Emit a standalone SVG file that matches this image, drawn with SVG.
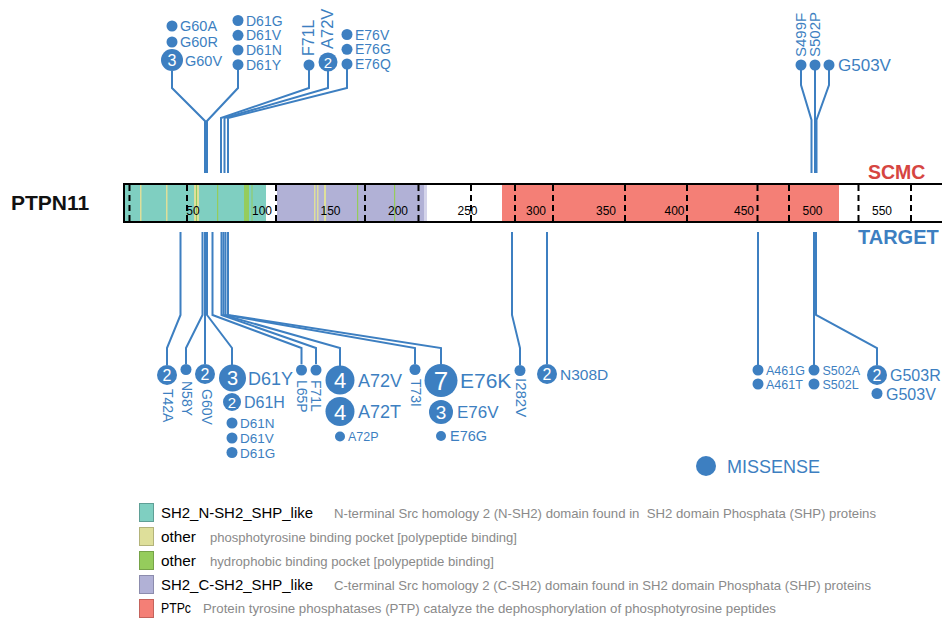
<svg xmlns="http://www.w3.org/2000/svg" width="942" height="619" viewBox="0 0 942 619">
  <style>
    text { font-family: "Liberation Sans", Arial, sans-serif; }
    .lbl { fill: #3d7fc1; }
    .num { fill: #ffffff; text-anchor: middle; }
    .dot { fill: #3d7fc1; }
    .conn { fill: none; stroke: #3d7fc1; stroke-width: 2; stroke-linejoin: miter; }
    .tick { stroke: #000; stroke-width: 2; stroke-dasharray: 6 4; }
    .axis { font-size: 12px; fill: #000; text-anchor: middle; }
    .lgname { font-size: 15px; fill: #000; }
    .lgdesc { font-size: 13px; fill: #8a8a8a; white-space: pre; }
  </style>

  <!-- protein name and track titles -->
  <text x="11" y="210" font-size="21" font-weight="bold" fill="#111">PTPN11</text>
  <text x="868" y="179" font-size="19.5" font-weight="bold" fill="#d64541">SCMC</text>
  <text x="858" y="244" font-size="20" font-weight="bold" fill="#3d7fc1">TARGET</text>

  <!-- protein backbone with domains -->
  <g id="backbone">
    <rect x="124" y="185" width="830" height="36" fill="#ffffff"/>
    <rect x="125" y="185" width="141" height="36" fill="#7fcfc1"/>
    <rect x="277" y="185" width="147" height="36" fill="#b1b1d6"/>
    <rect x="424" y="185" width="3" height="36" fill="#d4d4ea"/>
    <rect x="502" y="185" width="337" height="36" fill="#f47f76"/>
    <!-- binding pocket stripes -->
    <g fill="#dedf9a">
      <rect x="140" y="185" width="1.5" height="36"/>
      <rect x="166" y="185" width="1.5" height="36"/>
      <rect x="194" y="185" width="5" height="36"/>
      <rect x="314" y="185" width="1.5" height="36"/>
      <rect x="317" y="185" width="1.5" height="36"/>
      <rect x="324" y="185" width="2" height="36"/>
    </g>
    <g fill="#95cc5c">
      <rect x="196" y="185" width="1" height="36"/>
      <rect x="217" y="185" width="1.2" height="36"/>
      <rect x="244" y="185" width="5" height="36"/>
      <rect x="251.5" y="185" width="1" height="36"/>
      <rect x="357" y="185" width="1.2" height="36"/>
      <rect x="394" y="185" width="1.2" height="36"/>
    </g>
    <line x1="123" y1="184" x2="950" y2="184" stroke="#000" stroke-width="2"/>
    <line x1="123" y1="222" x2="950" y2="222" stroke="#000" stroke-width="2"/>
    <line x1="124" y1="183" x2="124" y2="223" stroke="#000" stroke-width="2"/>
    <!-- axis labels -->
    <text class="axis" x="193" y="215">50</text>
    <text class="axis" x="262" y="215">100</text>
    <text class="axis" x="330.5" y="215">150</text>
    <text class="axis" x="398" y="215">200</text>
    <text class="axis" x="467.5" y="215">250</text>
    <text class="axis" x="536" y="215">300</text>
    <text class="axis" x="606" y="215">350</text>
    <text class="axis" x="674.5" y="215">400</text>
    <text class="axis" x="744" y="215">450</text>
    <text class="axis" x="812.5" y="215">500</text>
    <text class="axis" x="882" y="215">550</text>
    <!-- domain boundary markers -->
    <g class="tick">
      <line x1="129.5" y1="185" x2="129.5" y2="221"/>
      <line x1="187" y1="185" x2="187" y2="221"/>
      <line x1="276" y1="185" x2="276" y2="221"/>
      <line x1="365" y1="185" x2="365" y2="221"/>
      <line x1="418.5" y1="185" x2="418.5" y2="221"/>
      <line x1="471" y1="185" x2="471" y2="221"/>
      <line x1="515" y1="185" x2="515" y2="221"/>
      <line x1="553" y1="185" x2="553" y2="221"/>
      <line x1="625" y1="185" x2="625" y2="221"/>
      <line x1="687" y1="185" x2="687" y2="221"/>
      <line x1="757.5" y1="185" x2="757.5" y2="221"/>
      <line x1="789" y1="185" x2="789" y2="221"/>
      <line x1="858.5" y1="185" x2="858.5" y2="221"/>
      <line x1="911" y1="185" x2="911" y2="221"/>
    </g>
  </g>

  <!-- connectors -->
  <g id="connectors" class="conn">
    <!-- SCMC track -->
    <polyline points="172,71 172,88 205,121 205,173"/>
    <polyline points="238,70 238,88 207,121 207,173"/>
    <polyline points="309,70 309,88 221,118 221,173"/>
    <polyline points="328,71 328,88 224.5,118 224.5,173"/>
    <polyline points="347,69 347,88 228,118 228,173"/>
    <polyline points="801,70 801,85 811.5,120 811.5,173"/>
    <polyline points="815,70 815,173"/>
    <polyline points="829,70 829,85 816.5,120 816.5,173"/>
    <!-- TARGET track -->
    <polyline points="180.5,232 180.5,315 167,348 167,365"/>
    <polyline points="202.5,232 202.5,315 186,348 186,364"/>
    <polyline points="205,232 205,364"/>
    <polyline points="207,232 207,315 232,348 232,365"/>
    <polyline points="212.5,232 212.5,315 301.5,348 301.5,364"/>
    <polyline points="221.5,232 221.5,315 316,348 316,364"/>
    <polyline points="223.5,232 223.5,315 340,348 340,366"/>
    <polyline points="225.5,232 225.5,315 415,348 415,364"/>
    <polyline points="228,232 228,315 441,348 441,364"/>
    <polyline points="512,232 512,315 520,348 520,365"/>
    <polyline points="547,232 547,364"/>
    <polyline points="758,232 758,365"/>
    <polyline points="814,232 814,365"/>
    <polyline points="816,232 816,315 877,348 877,365"/>
  </g>

  <!-- SCMC lollipops -->
  <g id="scmc-G60">
    <circle class="dot" cx="172" cy="26" r="5.5"/>
    <text class="lbl" x="180" y="31" font-size="14.5">G60A</text>
    <circle class="dot" cx="172" cy="42" r="5.5"/>
    <text class="lbl" x="180" y="47" font-size="14.5">G60R</text>
    <circle class="dot" cx="172" cy="60" r="11"/>
    <text class="num" x="172" y="65.5" font-size="16">3</text>
    <text class="lbl" x="185" y="65.5" font-size="14.5">G60V</text>
  </g>
  <g id="scmc-D61">
    <circle class="dot" cx="238" cy="20.5" r="5.5"/>
    <text class="lbl" x="246" y="25.5" font-size="14">D61G</text>
    <circle class="dot" cx="238" cy="35.3" r="5.5"/>
    <text class="lbl" x="246" y="40.3" font-size="14">D61V</text>
    <circle class="dot" cx="238" cy="50" r="5.5"/>
    <text class="lbl" x="246" y="55" font-size="14">D61N</text>
    <circle class="dot" cx="238" cy="64.7" r="5.5"/>
    <text class="lbl" x="246" y="69.7" font-size="14">D61Y</text>
  </g>
  <g id="scmc-F71L">
    <circle class="dot" cx="309" cy="65" r="5.5"/>
    <text class="lbl" transform="translate(314,56) rotate(-90)" font-size="16">F71L</text>
  </g>
  <g id="scmc-A72V">
    <circle class="dot" cx="328" cy="62" r="9.5"/>
    <text class="num" x="328" y="67.5" font-size="15">2</text>
    <text class="lbl" transform="translate(333,49) rotate(-90)" font-size="16.5">A72V</text>
  </g>
  <g id="scmc-E76">
    <circle class="dot" cx="347" cy="34.5" r="5.5"/>
    <text class="lbl" x="355" y="39.5" font-size="14">E76V</text>
    <circle class="dot" cx="347" cy="49.3" r="5.5"/>
    <text class="lbl" x="355" y="54.3" font-size="14">E76G</text>
    <circle class="dot" cx="347" cy="64" r="5.5"/>
    <text class="lbl" x="355" y="69" font-size="14">E76Q</text>
  </g>
  <g id="scmc-S499F">
    <circle class="dot" cx="801" cy="65" r="5.5"/>
    <text class="lbl" transform="translate(805.5,57) rotate(-90)" font-size="15">S499F</text>
  </g>
  <g id="scmc-S502P">
    <circle class="dot" cx="815" cy="65" r="5.5"/>
    <text class="lbl" transform="translate(819.5,57) rotate(-90)" font-size="15">S502P</text>
  </g>
  <g id="scmc-G503V">
    <circle class="dot" cx="829" cy="65" r="5.5"/>
    <text class="lbl" x="838" y="71" font-size="17">G503V</text>
  </g>

  <!-- TARGET lollipops -->
  <g id="target-T42A">
    <circle class="dot" cx="167" cy="375" r="10"/>
    <text class="num" x="167" y="380.5" font-size="16">2</text>
    <text class="lbl" transform="translate(162.5,389) rotate(90)" font-size="14">T42A</text>
  </g>
  <g id="target-N58Y">
    <circle class="dot" cx="186" cy="369.5" r="5.5"/>
    <text class="lbl" transform="translate(181.5,381) rotate(90)" font-size="14">N58Y</text>
  </g>
  <g id="target-G60V">
    <circle class="dot" cx="205" cy="374" r="10"/>
    <text class="num" x="205" y="379.5" font-size="16">2</text>
    <text class="lbl" transform="translate(201.5,389) rotate(90)" font-size="14">G60V</text>
  </g>
  <g id="target-D61">
    <circle class="dot" cx="232.5" cy="378" r="13.5"/>
    <text class="num" x="232.5" y="385" font-size="20">3</text>
    <text class="lbl" x="248" y="384.5" font-size="18">D61Y</text>
    <circle class="dot" cx="232" cy="402" r="9"/>
    <text class="num" x="232" y="407.5" font-size="15">2</text>
    <text class="lbl" x="244" y="408" font-size="16">D61H</text>
    <circle class="dot" cx="232" cy="423" r="5.5"/>
    <text class="lbl" x="240" y="428" font-size="13.5">D61N</text>
    <circle class="dot" cx="232" cy="438" r="5.5"/>
    <text class="lbl" x="240" y="443" font-size="13.5">D61V</text>
    <circle class="dot" cx="232" cy="452.5" r="5.5"/>
    <text class="lbl" x="240" y="457.5" font-size="13.5">D61G</text>
  </g>
  <g id="target-L65P">
    <circle class="dot" cx="301.5" cy="370" r="5.5"/>
    <text class="lbl" transform="translate(296.5,380) rotate(90)" font-size="14">L65P</text>
  </g>
  <g id="target-F71L">
    <circle class="dot" cx="316" cy="370" r="5.5"/>
    <text class="lbl" transform="translate(310.5,380) rotate(90)" font-size="14">F71L</text>
  </g>
  <g id="target-A72">
    <circle class="dot" cx="340" cy="380" r="14.5"/>
    <text class="num" x="340" y="388" font-size="22">4</text>
    <text class="lbl" x="358" y="387" font-size="18">A72V</text>
    <circle class="dot" cx="340" cy="411.5" r="14.5"/>
    <text class="num" x="340" y="419.5" font-size="22">4</text>
    <text class="lbl" x="358" y="418" font-size="18">A72T</text>
    <circle class="dot" cx="340" cy="436.5" r="5"/>
    <text class="lbl" x="348" y="441" font-size="12.5">A72P</text>
  </g>
  <g id="target-T73I">
    <circle class="dot" cx="415" cy="369.5" r="5.5"/>
    <text class="lbl" transform="translate(410.5,379) rotate(90)" font-size="14">T73I</text>
  </g>
  <g id="target-E76">
    <circle class="dot" cx="441" cy="380.5" r="16.5"/>
    <text class="num" x="441" y="390" font-size="26">7</text>
    <text class="lbl" x="460" y="388" font-size="21">E76K</text>
    <circle class="dot" cx="441" cy="412" r="12"/>
    <text class="num" x="441" y="418.5" font-size="19">3</text>
    <text class="lbl" x="457" y="418" font-size="17">E76V</text>
    <circle class="dot" cx="441" cy="436" r="5"/>
    <text class="lbl" x="450" y="441" font-size="14.5">E76G</text>
  </g>
  <g id="target-I282V">
    <circle class="dot" cx="520" cy="370.5" r="5.5"/>
    <text class="lbl" transform="translate(516,378) rotate(90)" font-size="15">I282V</text>
  </g>
  <g id="target-N308D">
    <circle class="dot" cx="547" cy="374" r="10"/>
    <text class="num" x="547" y="379.5" font-size="16">2</text>
    <text class="lbl" x="560" y="380" font-size="15.5">N308D</text>
  </g>
  <g id="target-A461">
    <circle class="dot" cx="758" cy="370" r="5.5"/>
    <text class="lbl" x="766" y="374.5" font-size="12.5">A461G</text>
    <circle class="dot" cx="758" cy="384" r="5.5"/>
    <text class="lbl" x="766" y="388.5" font-size="12.5">A461T</text>
  </g>
  <g id="target-S502">
    <circle class="dot" cx="814" cy="370" r="5.5"/>
    <text class="lbl" x="822.5" y="374.5" font-size="12.5">S502A</text>
    <circle class="dot" cx="814" cy="384" r="5.5"/>
    <text class="lbl" x="822.5" y="388.5" font-size="12.5">S502L</text>
  </g>
  <g id="target-G503">
    <circle class="dot" cx="877" cy="375" r="10"/>
    <text class="num" x="877" y="380.5" font-size="16">2</text>
    <text class="lbl" x="890" y="381" font-size="16">G503R</text>
    <circle class="dot" cx="877" cy="393.5" r="5.5"/>
    <text class="lbl" x="886" y="399.5" font-size="16">G503V</text>
  </g>

  <!-- mutation type key -->
  <g id="key-missense">
    <circle class="dot" cx="706" cy="466" r="10"/>
    <text class="lbl" x="727" y="472.5" font-size="18">MISSENSE</text>
  </g>

  <!-- domain legend -->
  <g id="legend">
    <rect x="139.5" y="503.5" width="14" height="18" fill="#7fcfc1" stroke="#5f9f96"/>
    <text class="lgname" x="161" y="518" textLength="152" lengthAdjust="spacingAndGlyphs">SH2_N-SH2_SHP_like</text>
    <text class="lgdesc" x="334" y="518" textLength="542" lengthAdjust="spacingAndGlyphs">N-terminal Src homology 2 (N-SH2) domain found in  SH2 domain Phosphata (SHP) proteins</text>

    <rect x="139.5" y="527.5" width="14" height="18" fill="#dedf9a" stroke="#b3b37a"/>
    <text class="lgname" x="161" y="542" textLength="35" lengthAdjust="spacingAndGlyphs">other</text>
    <text class="lgdesc" x="210" y="542" textLength="307" lengthAdjust="spacingAndGlyphs">phosphotyrosine binding pocket [polypeptide binding]</text>

    <rect x="139.5" y="551.5" width="14" height="18" fill="#95cc5c" stroke="#76a348"/>
    <text class="lgname" x="161" y="566" textLength="35" lengthAdjust="spacingAndGlyphs">other</text>
    <text class="lgdesc" x="210" y="566" textLength="284" lengthAdjust="spacingAndGlyphs">hydrophobic binding pocket [polypeptide binding]</text>

    <rect x="139.5" y="575.5" width="14" height="18" fill="#b1b1d6" stroke="#8c8cad"/>
    <text class="lgname" x="161" y="590" textLength="152" lengthAdjust="spacingAndGlyphs">SH2_C-SH2_SHP_like</text>
    <text class="lgdesc" x="334" y="590" textLength="537" lengthAdjust="spacingAndGlyphs">C-terminal Src homology 2 (C-SH2) domain found in SH2 domain Phosphata (SHP) proteins</text>

    <rect x="139.5" y="599.5" width="14" height="18" fill="#f47f76" stroke="#c4635c"/>
    <text class="lgname" x="161" y="613" textLength="30" lengthAdjust="spacingAndGlyphs">PTPc</text>
    <text class="lgdesc" x="203" y="613" textLength="573" lengthAdjust="spacingAndGlyphs">Protein tyrosine phosphatases (PTP) catalyze the dephosphorylation of phosphotyrosine peptides</text>
  </g>
</svg>
